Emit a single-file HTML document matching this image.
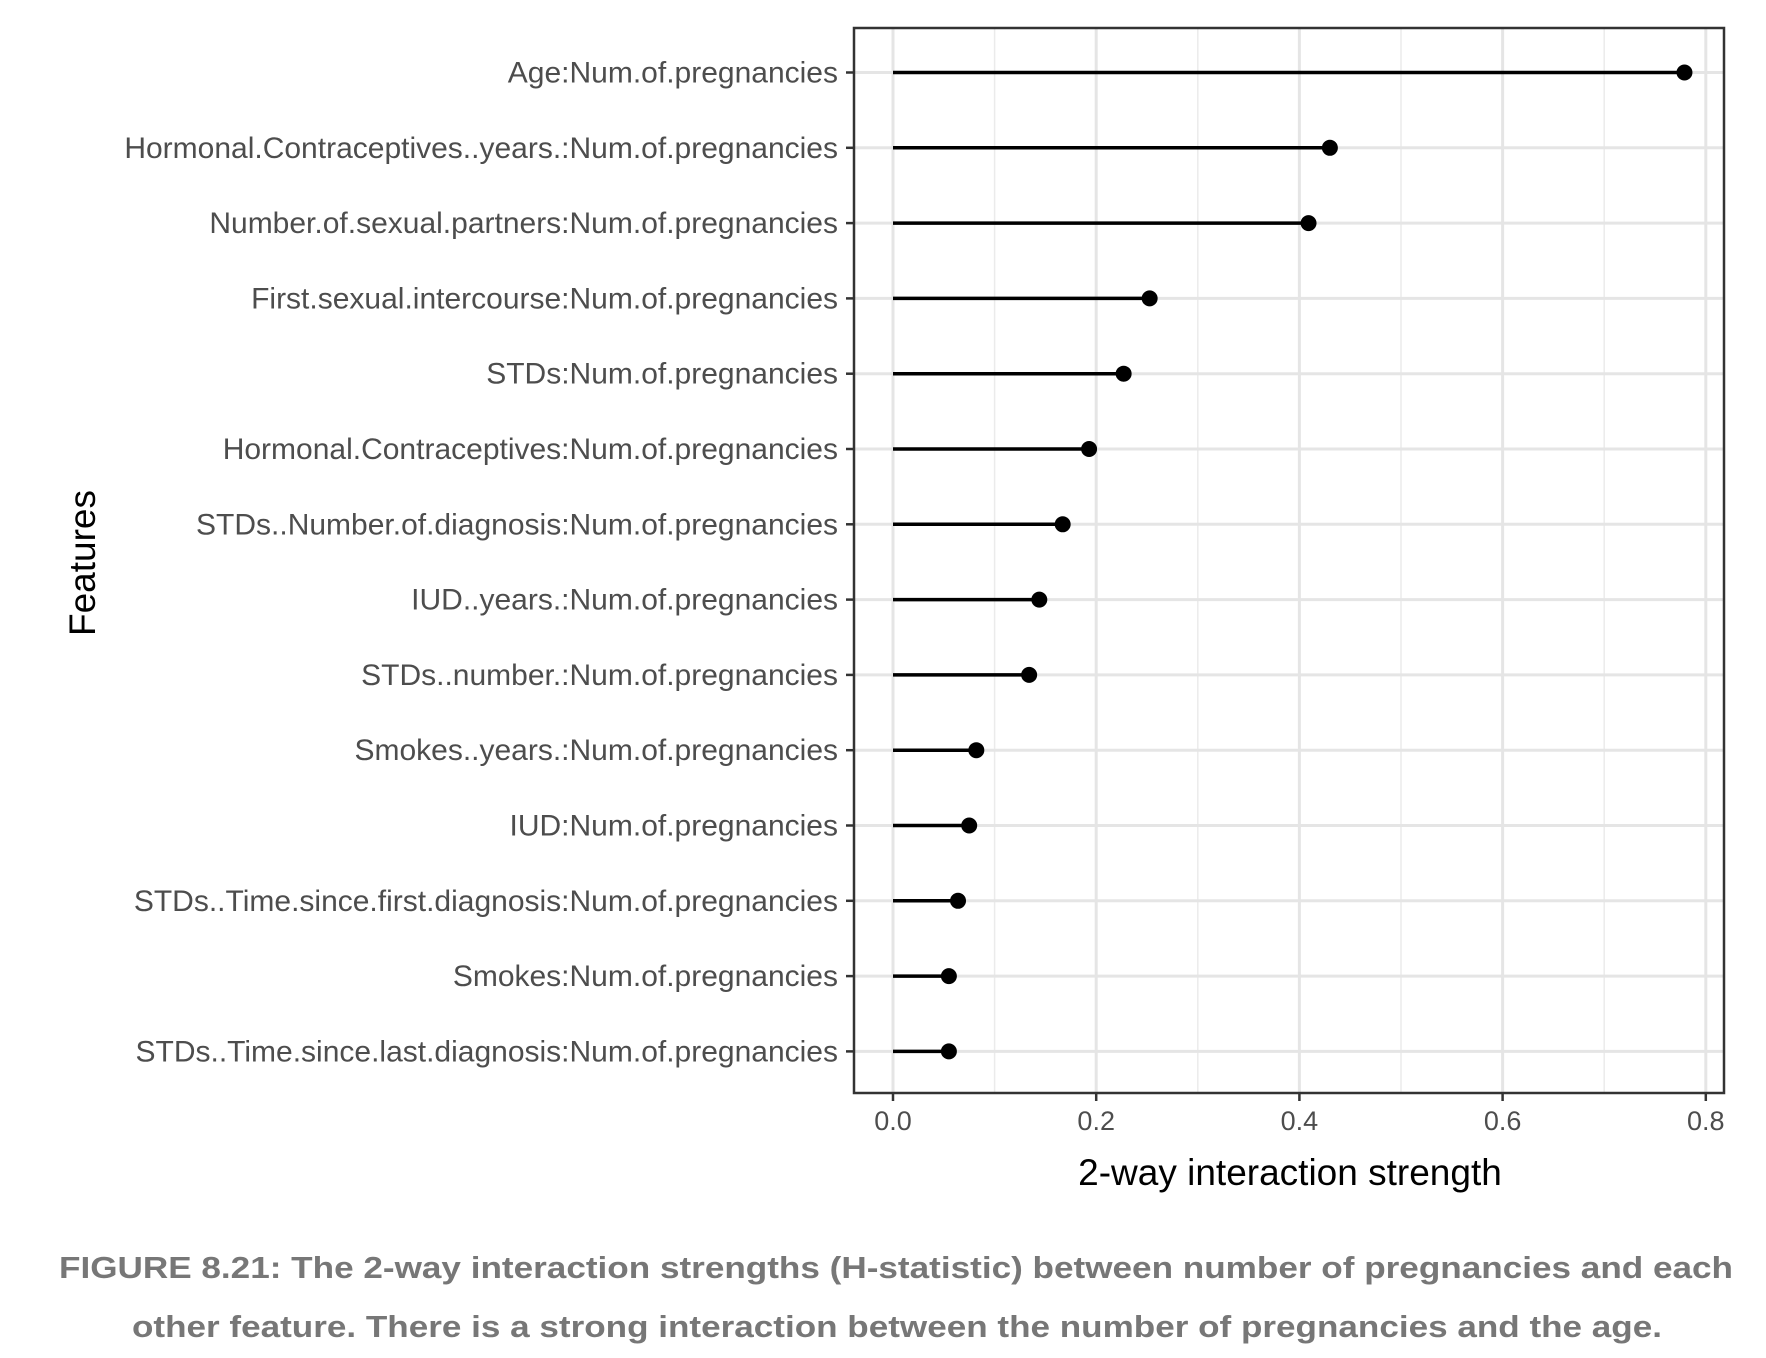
<!DOCTYPE html>
<html><head><meta charset="utf-8"><style>
html,body{margin:0;padding:0;background:#fff;}
svg{display:block;font-family:"Liberation Sans",sans-serif;}
</style></head><body>
<svg id="s" width="1766" height="1358" viewBox="0 0 1766 1358" xmlns="http://www.w3.org/2000/svg"></svg>
<script>
const s=document.getElementById('s');
const L=854,R=1724,T=28,B=1093,x0=893,k=1016;
const rows=[["Age:Num.of.pregnancies",0.779],["Hormonal.Contraceptives..years.:Num.of.pregnancies",0.430],["Number.of.sexual.partners:Num.of.pregnancies",0.409],["First.sexual.intercourse:Num.of.pregnancies",0.2526],["STDs:Num.of.pregnancies",0.227],["Hormonal.Contraceptives:Num.of.pregnancies",0.193],["STDs..Number.of.diagnosis:Num.of.pregnancies",0.167],["IUD..years.:Num.of.pregnancies",0.144],["STDs..number.:Num.of.pregnancies",0.134],["Smokes..years.:Num.of.pregnancies",0.082],["IUD:Num.of.pregnancies",0.075],["STDs..Time.since.first.diagnosis:Num.of.pregnancies",0.064],["Smokes:Num.of.pregnancies",0.055],["STDs..Time.since.last.diagnosis:Num.of.pregnancies",0.055]];
const y0=72.5,dy=75.3;
let h='';
for(let i=1;i<8;i+=2){const x=x0+i*0.1*k;h+=`<line x1="${x}" y1="${T}" x2="${x}" y2="${B}" stroke="#ebebeb" stroke-width="1.5"/>`;}
for(let i=0;i<=4;i++){const x=x0+i*0.2*k;h+=`<line x1="${x}" y1="${T}" x2="${x}" y2="${B}" stroke="#e5e5e5" stroke-width="3"/>`;}
rows.forEach((r,i)=>{const y=y0+i*dy;h+=`<line x1="${L}" y1="${y}" x2="${R}" y2="${y}" stroke="#e5e5e5" stroke-width="3"/>`;});
rows.forEach((r,i)=>{const y=y0+i*dy,x=x0+r[1]*k;
h+=`<line x1="${x0}" y1="${y}" x2="${x}" y2="${y}" stroke="#000" stroke-width="3.5"/><circle cx="${x}" cy="${y}" r="8" fill="#000"/>`;
h+=`<line x1="${L-8}" y1="${y}" x2="${L}" y2="${y}" stroke="#333" stroke-width="2.5"/>`;
h+=`<text x="${L-16}" y="${y+10}" text-anchor="end" font-size="30" fill="#4d4d4d">${r[0]}</text>`;});
h+=`<rect x="${L}" y="${T}" width="${R-L}" height="${B-T}" fill="none" stroke="#333" stroke-width="2.5"/>`;
for(let i=0;i<=4;i++){const x=x0+i*0.2*k;h+=`<line x1="${x}" y1="${B}" x2="${x}" y2="${B+8}" stroke="#333" stroke-width="2.5"/><text x="${x}" y="${B+37}" text-anchor="middle" font-size="27" fill="#4d4d4d">${(i*0.2).toFixed(1)}</text>`;}
h+=`<text x="1290" y="1185" text-anchor="middle" font-size="37" fill="#000">2-way interaction strength</text>`;
h+=`<text transform="translate(95,563) rotate(-90)" text-anchor="middle" font-size="37" fill="#000">Features</text>`;
h+=`<text x="59" y="1278" font-size="31" font-weight="bold" fill="#777" textLength="1674" lengthAdjust="spacingAndGlyphs">FIGURE 8.21: The 2-way interaction strengths (H-statistic) between number of pregnancies and each</text>`;
h+=`<text x="132" y="1337" font-size="31" font-weight="bold" fill="#777" textLength="1530" lengthAdjust="spacingAndGlyphs">other feature. There is a strong interaction between the number of pregnancies and the age.</text>`;
s.innerHTML=h;
</script>
</body></html>
